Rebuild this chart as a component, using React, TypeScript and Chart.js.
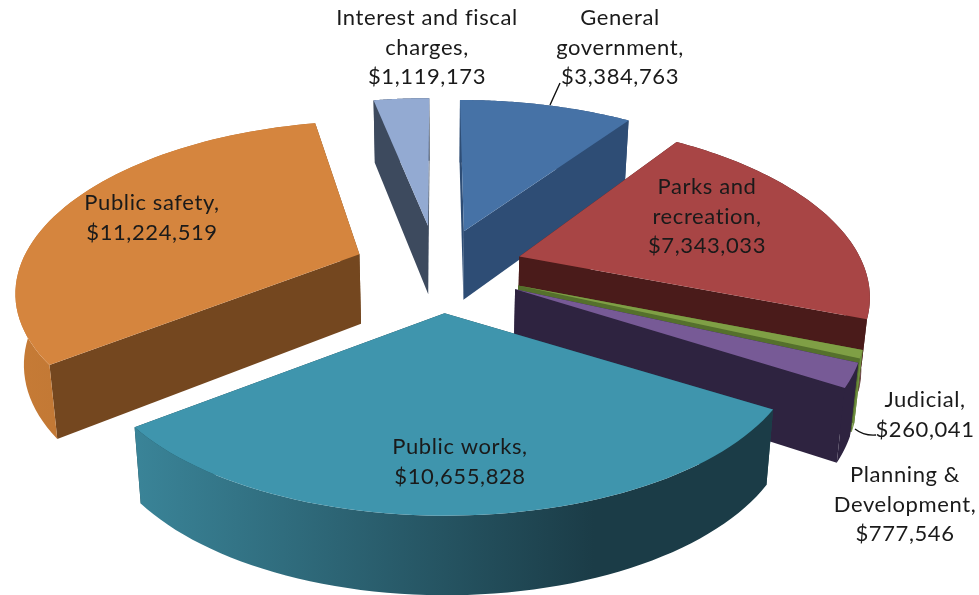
import React, { useEffect, useRef } from "react";
import { Chart, registerables } from "chart.js";

Chart.register(...registerables);

const categories = [
  "General government",
  "Parks and recreation",
  "Judicial",
  "Planning & Development",
  "Public works",
  "Public safety",
  "Interest and fiscal charges",
];
const values = [3384763, 7343033, 260041, 777546, 10655828, 11224519, 1119173];
const labelLines = [
  ["General", "government,"],
  ["Parks and", "recreation,"],
  ["Judicial,"],
  ["Planning &", "Development,"],
  ["Public works,"],
  ["Public safety,"],
  ["Interest and fiscal", "charges,"],
];

// styling per slice, same order as categories
const topColors = ["#4672a6", "#a84545", "#7f9f45", "#775a96", "#3f95ad", "#d5853e", "#93aad2"];
const cutColors = ["#2e4d75", "#4a1b1a", "#55702c", "#2e2340", "#1c4650", "#74471f", "#3d4a5e"];
const wallFrom = ["#2e4d75", "#4a1b1a", "#6f8f3f", "#2e2340", "#3a8498", "#c67b36", "#3d4a5e"];
const wallTo = ["#2e4d75", "#4a1b1a", "#6f8f3f", "#2e2340", "#1b3c47", "#b56f30", "#3d4a5e"];
const explode = [83, 83, 83, 83, 83, 83, 83];
const radiusScale = [1.03, 1, 0.96, 0.96, 0.96, 0.985, 1];
const radiusScaleY = [1, 1, 1, 1, 0.93, 1, 1];
const nudgeX = [0, 1, 0, 0, 0, -4, -4];
const nudgeY = [0, 0, 2, 2, 3, 0, -4];
const labelX = [620, 707, 925, 905, 460, 152, 427];
const labelY = [18, 187, 400, 475, 447, 203, 18];

const CX = 440;
const CY = 268;
const RX = 345;
const QY = 167;
const K = 0.2;
const DEPTH = 70;

type Pt = [number, number];

const pseudo3d = {
  id: "pseudo3d",
  beforeDatasetDraw(chart: any) {
    const ctx: CanvasRenderingContext2D = chart.ctx;
    const arcs = chart.getDatasetMeta(0).data;
    const order = [6, 0, 5, 1, 2, 3, 4];
    for (const i of order) {
      const arc = arcs[i];
      const a0 = arc.startAngle + Math.PI / 2;
      const a1 = arc.endAngle + Math.PI / 2;
      const bis = (a0 + a1) / 2;
      const e = (arc.options.offset || 0) / RX;
      const sc = radiusScale[i];
      const scy = radiusScaleY[i];
      const project = (theta: number, r: number): { p: Pt; b: Pt } => {
        const wx = e * Math.sin(bis) + r * sc * Math.sin(theta);
        const wy = -e * Math.cos(bis) - r * sc * scy * Math.cos(theta);
        const s = 1 / (1 - K * wy);
        const x = CX + RX * wx * s + nudgeX[i];
        const y = CY + QY * wy * s + nudgeY[i];
        const d = DEPTH * Math.pow(s, 0.5);
        return { p: [x, y], b: [x - (x - CX) * 0.02, y + d] };
      };
      const apex = project(0, 0);
      const n = 60;
      const rim: { p: Pt; b: Pt }[] = [];
      for (let j = 0; j <= n; j++) rim.push(project(a0 + ((a1 - a0) * j) / n, 1));

      const poly = (pts: Pt[], fill: string | CanvasGradient) => {
        ctx.beginPath();
        pts.forEach((q, idx) => (idx ? ctx.lineTo(q[0], q[1]) : ctx.moveTo(q[0], q[1])));
        ctx.closePath();
        ctx.fillStyle = fill;
        ctx.fill();
      };

      // cut faces
      const first = rim[0];
      const last = rim[n];
      const faces = [first, last].sort((u, v) => u.p[1] - v.p[1]);
      for (const f of faces) poly([apex.p, f.p, f.b, apex.b], cutColors[i]);

      // outer wall
      const minX = Math.min(...rim.map((r) => r.p[0]));
      const maxX = Math.max(...rim.map((r) => r.p[0]));
      const g = ctx.createLinearGradient(minX, 0, maxX, 0);
      g.addColorStop(0, wallFrom[i]);
      g.addColorStop(0.72, wallTo[i]);
      g.addColorStop(1, wallTo[i]);
      poly([...rim.map((r) => r.p), ...rim.map((r) => r.b).reverse()], g);

      // top face
      poly([apex.p, ...rim.map((r) => r.p)], topColors[i]);
    }
    return false;
  },
  afterDraw(chart: any) {
    const ctx: CanvasRenderingContext2D = chart.ctx;
    ctx.save();
    ctx.strokeStyle = "#111111";
    ctx.lineWidth = 1.4;
    ctx.beginPath();
    ctx.moveTo(550, 105);
    ctx.lineTo(560, 83);
    ctx.moveTo(855, 429);
    ctx.quadraticCurveTo(864, 436, 876, 435);
    ctx.stroke();

    ctx.fillStyle = "#1a1a1a";
    ctx.font = '22px Lato, "Open Sans", sans-serif';
    ctx.textAlign = "center";
    ctx.textBaseline = "middle";
    (ctx as any).letterSpacing = "0.6px";
    categories.forEach((_, i) => {
      const lines = [...labelLines[i], "$" + values[i].toLocaleString("en-US")];
      lines.forEach((line, j) => ctx.fillText(line, labelX[i], labelY[i] + j * 29.5));
    });
    ctx.restore();
  },
};

export default function App() {
  const ref = useRef<HTMLCanvasElement>(null);
  useEffect(() => {
    document.body.style.margin = "0";
    const chart = new Chart(ref.current as HTMLCanvasElement, {
      type: "pie",
      data: {
        labels: categories,
        datasets: [{ data: values, backgroundColor: topColors, offset: explode, borderWidth: 0 }],
      },
      options: {
        responsive: false,
        animation: false,
        plugins: { legend: { display: false }, tooltip: { enabled: false } },
      },
      plugins: [pseudo3d],
    } as any);
    return () => chart.destroy();
  }, []);
  return <canvas ref={ref} width={979} height={595} style={{ display: "block" }} />;
}
